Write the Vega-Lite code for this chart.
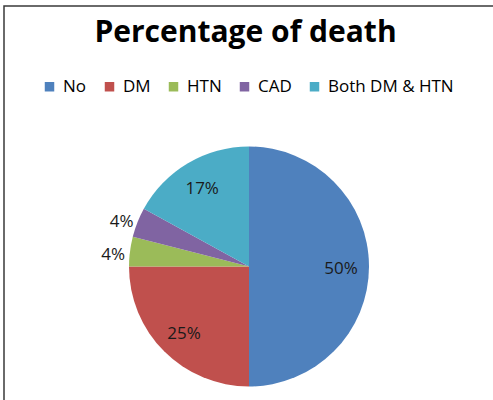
{
  "$schema": "https://vega.github.io/schema/vega-lite/v6.json",
  "width": 490,
  "height": 521,
  "autosize": "none",
  "padding": {"left": 4, "top": 6, "right": 0, "bottom": 0},
  "background": "white",
  "view": {"stroke": "#3a3a3a", "strokeWidth": 1.5},
  "title": {
    "text": "Percentage of death",
    "orient": "top",
    "anchor": "middle",
    "frame": "group",
    "offset": -42,
    "dx": -3.5,
    "font": "Open Sans",
    "fontSize": 30,
    "fontWeight": "bold",
    "color": "#000000"
  },
  "data": {
    "values": [
      {"rank": 1, "group": "No", "share": 0.50},
      {"rank": 2, "group": "DM", "share": 0.25},
      {"rank": 3, "group": "HTN", "share": 0.04},
      {"rank": 4, "group": "CAD", "share": 0.04},
      {"rank": 5, "group": "Both DM & HTN", "share": 0.17}
    ]
  },
  "encoding": {
    "theta": {"field": "share", "type": "quantitative", "stack": true},
    "order": {"field": "rank", "type": "quantitative"},
    "color": {
      "field": "group",
      "type": "nominal",
      "scale": {
        "domain": ["No", "DM", "HTN", "CAD", "Both DM & HTN"],
        "range": ["#4F81BD", "#C0504D", "#9BBB59", "#8064A2", "#4BACC6"]
      },
      "legend": {
        "orient": "none",
        "legendX": 37,
        "legendY": 72,
        "direction": "horizontal",
        "columns": 5,
        "title": null,
        "padding": 0,
        "symbolType": "square",
        "symbolSize": 90,
        "symbolStrokeWidth": 0,
        "labelFont": "Open Sans",
        "labelFontSize": 17,
        "labelColor": "#000000",
        "labelOffset": 5,
        "columnPadding": 14
      }
    }
  },
  "layer": [
    {"mark": {"type": "arc", "radius": 120}},
    {
      "mark": {
        "type": "text",
        "font": "Open Sans",
        "fontSize": 17,
        "radius": {"expr": "datum.share < 0.1 ? 137 : 92"},
        "dy": {"expr": "datum.share < 0.1 ? 6 : 2"}
      },
      "encoding": {
        "text": {"field": "share", "type": "quantitative", "format": ".0%"},
        "color": {"value": "#1a1a1a"}
      }
    }
  ]
}
